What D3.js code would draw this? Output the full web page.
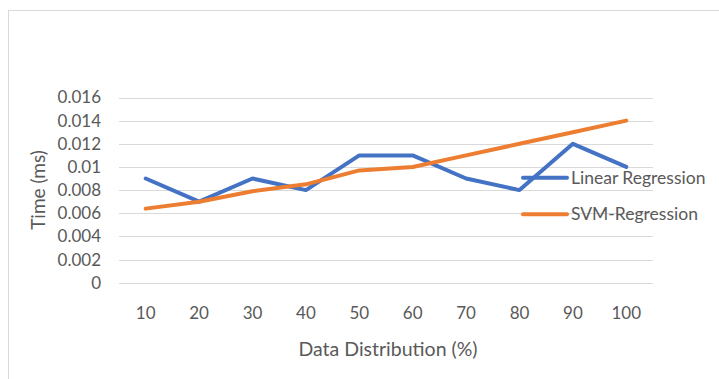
<!DOCTYPE html>
<html>
<head>
<meta charset="utf-8">
<script src="https://cdn.jsdelivr.net/npm/d3@7"></script>
<style>
  body { margin: 0; background: #fff; }
  svg { display: block; font-family: Lato, "Open Sans", sans-serif; }
</style>
</head>
<body>
<svg id="chart" width="719" height="379"></svg>
<script>
// Data
const categories = ["10", "20", "30", "40", "50", "60", "70", "80", "90", "100"];
const linearRegression = [0.009, 0.007, 0.009, 0.008, 0.011, 0.011, 0.009, 0.008, 0.012, 0.010];
const svmRegression = [0.0064, 0.007, 0.0079, 0.0085, 0.0097, 0.01, 0.011, 0.012, 0.013, 0.014];
const yTicks = [0, 0.002, 0.004, 0.006, 0.008, 0.01, 0.012, 0.014, 0.016];
const seriesNames = ["Linear Regression", "SVM-Regression"];
const seriesColors = ["#4472C4", "#ED7D31"];

const svg = d3.select("#chart");
const textColor = "#595959";

// Outer chart border
svg.append("rect")
    .attr("x", 8.5).attr("y", 10.5)
    .attr("width", 730).attr("height", 400)
    .attr("fill", "none")
    .attr("stroke", "#d9d9d9");

const plot = { left: 119, right: 653, top: 97.5, bottom: 282.7 };

const x = d3.scaleBand().domain(categories).range([plot.left, plot.right]);
const y = d3.scaleLinear().domain([0, 0.016]).range([plot.bottom, plot.top]);

// Gridlines
svg.append("g")
    .selectAll("line")
    .data(yTicks)
    .join("line")
    .attr("x1", plot.left).attr("x2", plot.right)
    .attr("y1", d => Math.round(y(d)) + 0.5)
    .attr("y2", d => Math.round(y(d)) + 0.5)
    .attr("stroke", "#d9d9d9")
    .attr("stroke-width", 1);

// Y tick labels
svg.append("g")
    .selectAll("text")
    .data(yTicks)
    .join("text")
    .attr("x", 101)
    .attr("y", d => y(d))
    .attr("dy", "0.35em")
    .attr("text-anchor", "end")
    .attr("font-size", 17)
    .attr("fill", textColor)
    .text(d => d3.format("")(d));

// X tick labels
svg.append("g")
    .selectAll("text")
    .data(categories)
    .join("text")
    .attr("x", d => x(d) + x.bandwidth() / 2)
    .attr("y", 313)
    .attr("dy", "0.35em")
    .attr("text-anchor", "middle")
    .attr("font-size", 17)
    .attr("fill", textColor)
    .text(d => d);

// Axis titles
svg.append("text")
    .attr("x", 388).attr("y", 349)
    .attr("dy", "0.35em")
    .attr("text-anchor", "middle")
    .attr("font-size", 19.5)
    .attr("fill", textColor)
    .text("Data Distribution (%)");

svg.append("text")
    .attr("transform", "translate(38,190) rotate(-90)")
    .attr("dy", "0.35em")
    .attr("text-anchor", "middle")
    .attr("font-size", 19)
    .attr("fill", textColor)
    .text("Time (ms)");

// Lines
const line = d3.line()
    .x((d, i) => x(categories[i]) + x.bandwidth() / 2)
    .y(d => y(d));

[linearRegression, svmRegression].forEach((values, i) => {
    svg.append("path")
        .datum(values)
        .attr("fill", "none")
        .attr("stroke", seriesColors[i])
        .attr("stroke-width", 4)
        .attr("stroke-linejoin", "round")
        .attr("stroke-linecap", "round")
        .attr("d", line);
});

// Legend
const legend = svg.append("g")
    .selectAll("g")
    .data(seriesNames)
    .join("g")
    .attr("transform", (d, i) => `translate(523,${177.7 + i * 36.5})`);

legend.append("line")
    .attr("x1", 0).attr("x2", 44)
    .attr("stroke", (d, i) => seriesColors[i])
    .attr("stroke-width", 4)
    .attr("stroke-linecap", "round");

legend.append("text")
    .attr("x", 48)
    .attr("dy", "0.35em")
    .attr("font-size", 17.5)
    .attr("fill", textColor)
    .text(d => d);
</script>
</body>
</html>
